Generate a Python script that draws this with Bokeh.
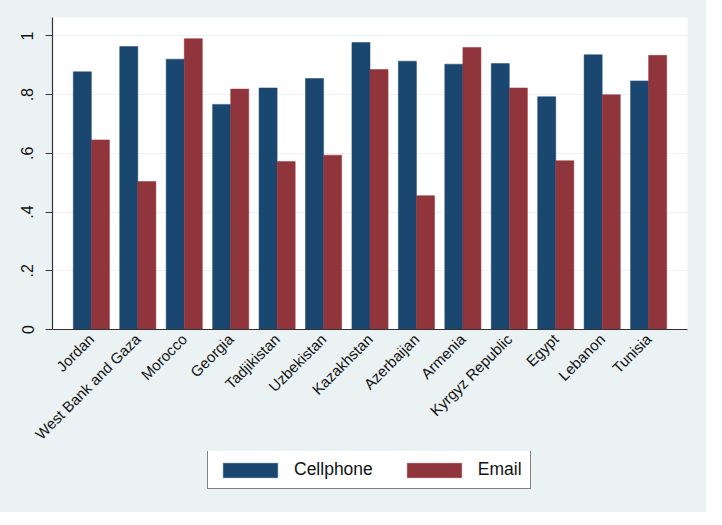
from bokeh.plotting import figure
from bokeh.models import FactorRange, Range1d, FixedTicker, Legend, LegendItem, ColumnDataSource
from bokeh.transform import dodge
from bokeh.layouts import column
from bokeh.embed import file_html
from bokeh.resources import INLINE
import math

countries = ["Jordan", "West Bank and Gaza", "Morocco", "Georgia", "Tadjikistan",
             "Uzbekistan", "Kazakhstan", "Azerbaijan", "Armenia", "Kyrgyz Republic",
             "Egypt", "Lebanon", "Tunisia"]
cellphone = [0.878, 0.964, 0.921, 0.767, 0.823, 0.855, 0.978, 0.914, 0.904, 0.906, 0.793, 0.936, 0.847]
email = [0.646, 0.504, 0.991, 0.819, 0.572, 0.594, 0.886, 0.456, 0.961, 0.823, 0.575, 0.800, 0.934]
y_ticks = [0, 0.2, 0.4, 0.6, 0.8, 1.0]
y_tick_labels = ["0", ".2", ".4", ".6", ".8", "1"]
series_names = ["Cellphone", "Email"]

NAVY = "#1A476F"
MAROON = "#90353B"
BG = "#EAF2F3"
FONT = "Liberation Sans"

src = ColumnDataSource(dict(country=countries, cellphone=cellphone, email=email))

p = figure(frame_width=635, frame_height=312, output_backend="svg", toolbar_location=None,
           x_range=FactorRange(factors=countries, range_padding=0.337, range_padding_units="absolute"),
           y_range=Range1d(0, 1.063),
           min_border_left=52, min_border_right=19, min_border_top=17, min_border_bottom=119)

p.border_fill_color = BG
p.background_fill_color = "white"
p.outline_line_color = None

r1 = p.vbar(x=dodge("country", -0.1947, range=p.x_range), top="cellphone", width=0.389,
            source=src, fill_color=NAVY, line_color=NAVY, line_width=0.5)
r2 = p.vbar(x=dodge("country", 0.1947, range=p.x_range), top="email", width=0.389,
            source=src, fill_color=MAROON, line_color=MAROON, line_width=0.5)

# grid
p.xgrid.grid_line_color = None
p.ygrid.ticker = FixedTicker(ticks=y_ticks)
p.ygrid.grid_line_color = BG
p.ygrid.grid_line_width = 1

# y axis
p.yaxis.ticker = FixedTicker(ticks=y_ticks)
p.yaxis.major_label_overrides = {t: l for t, l in zip(y_ticks, y_tick_labels)}
p.yaxis.major_label_orientation = "vertical"
p.yaxis.major_label_text_font = FONT
p.yaxis.major_label_text_font_size = "16px"
p.yaxis.major_label_text_color = "#111111"
p.yaxis.major_label_standoff = 12
p.yaxis.major_tick_out = 7
p.yaxis.major_tick_in = 0
p.yaxis.minor_tick_out = 0
p.yaxis.minor_tick_in = 0
p.yaxis.axis_line_color = "#333333"
p.yaxis.major_tick_line_color = "#333333"
p.yaxis.axis_line_width = 1.2

# x axis
p.xaxis.major_label_orientation = math.pi / 4
p.xaxis.major_label_text_font = FONT
p.xaxis.major_label_text_font_size = "15px"
p.xaxis.major_label_text_color = "#111111"
p.xaxis.major_label_standoff = 7
p.xaxis.major_tick_out = 0
p.xaxis.major_tick_in = 0
p.xaxis.axis_line_color = "#333333"
p.xaxis.axis_line_width = 1.2

# legend strip (separate figure so the legend is not clipped by the frame)
p2 = figure(width=706, height=61, output_backend="svg", toolbar_location=None,
            x_range=p.x_range, y_range=Range1d(5, 6),
            x_axis_location=None, y_axis_location=None,
            min_border_left=52, min_border_right=19, min_border_top=0, min_border_bottom=0)
p2.border_fill_color = BG
p2.background_fill_color = BG
p2.outline_line_color = None
p2.grid.visible = False
k1 = p2.vbar(x=dodge("country", -0.1947, range=p.x_range), top="cellphone", width=0.389,
             source=src, fill_color=NAVY, line_color=NAVY, line_width=0.5)
k2 = p2.vbar(x=dodge("country", 0.1947, range=p.x_range), top="email", width=0.389,
             source=src, fill_color=MAROON, line_color=MAROON, line_width=0.5)

legend = Legend(items=[LegendItem(label=series_names[0], renderers=[k1]),
                       LegendItem(label=series_names[1], renderers=[k2])],
                orientation="horizontal", location=(155, 23))
legend.background_fill_color = "white"
legend.background_fill_alpha = 1.0
legend.border_line_color = "black"
legend.border_line_width = 1
legend.glyph_width = 68
legend.glyph_height = 18
legend.label_height = 18
legend.label_standoff = 10
legend.spacing = 27
legend.padding = 8
legend.margin = 0
legend.label_text_font = FONT
legend.label_text_font_size = "17.5px"
legend.label_text_color = "#111111"
p2.add_layout(legend, "center")

layout = column(p, p2, spacing=0, styles={"background-color": BG})

open("out.html", "w").write(file_html(layout, INLINE))
